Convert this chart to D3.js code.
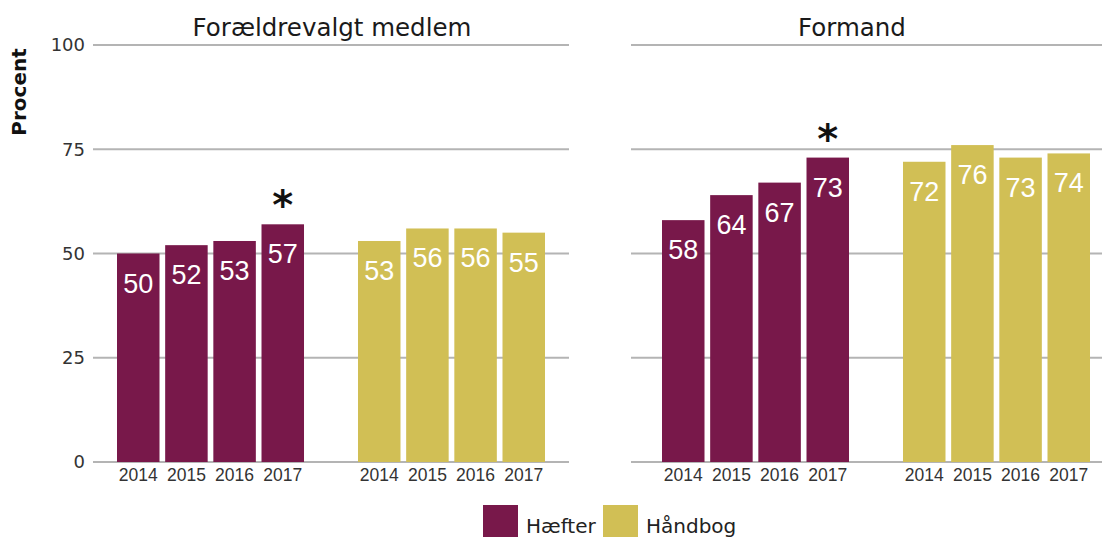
<!DOCTYPE html>
<html>
<head>
<meta charset="utf-8">
<script src="https://cdn.jsdelivr.net/npm/d3@7"></script>
<style>
  html, body { margin: 0; padding: 0; background: #fff; }
  svg { display: block; }
</style>
</head>
<body>
<svg id="chart" width="1102" height="537"></svg>
<script>
// ---- data ----
const panelTitles = ["Forældrevalgt medlem", "Formand"];
const seriesNames = ["Hæfter", "Håndbog"];
const years = ["2014", "2015", "2016", "2017"];
const haefterMedlem = [50, 52, 53, 57];
const haandbogMedlem = [53, 56, 56, 55];
const haefterFormand = [58, 64, 67, 73];
const haandbogFormand = [72, 76, 73, 74];
const starsMedlem = [[false, false, false, true], [false, false, false, false]];
const starsFormand = [[false, false, false, true], [false, false, false, false]];
const yTicks = [0, 25, 50, 75, 100];
const yLabel = "Procent";

// ---- styles / layout ----
const colors = ["#78184a", "#d1bf55"];
const panelLayout = [
  { grid: [93, 569], bars: [117, 545], titleX: 332 },
  { grid: [631, 1102], bars: [662, 1090], titleX: 852 }
];
const panelData = [
  { values: [haefterMedlem, haandbogMedlem], stars: starsMedlem },
  { values: [haefterFormand, haandbogFormand], stars: starsFormand }
];

const svg = d3.select("#chart");
const y = d3.scaleLinear().domain([0, 100]).range([462, 45]);

// y-axis label
svg.append("text")
  .attr("transform", `translate(26,92) rotate(-90)`)
  .attr("text-anchor", "middle")
  .attr("font-family", "DejaVu Sans")
  .attr("font-weight", "bold")
  .attr("font-size", 20)
  .attr("fill", "#111")
  .text(yLabel);

// y tick labels (left only)
svg.append("g").selectAll("text").data(yTicks).join("text")
  .attr("x", 85)
  .attr("y", d => y(d))
  .attr("dy", "0.36em")
  .attr("text-anchor", "end")
  .attr("font-family", "DejaVu Sans")
  .attr("font-size", 18)
  .attr("fill", "#333")
  .text(d => d);

panelTitles.forEach((title, pi) => {
  const L = panelLayout[pi];
  const P = panelData[pi];
  const g = svg.append("g");

  // gridlines
  g.append("g").selectAll("line").data(yTicks).join("line")
    .attr("x1", L.grid[0]).attr("x2", L.grid[1])
    .attr("y1", d => y(d)).attr("y2", d => y(d))
    .attr("stroke", "#b4b4b4").attr("stroke-width", 2);

  // title
  g.append("text")
    .attr("x", L.titleX).attr("y", 36)
    .attr("text-anchor", "middle")
    .attr("font-family", "DejaVu Sans")
    .attr("font-size", 24.5)
    .attr("fill", "#1a1a1a")
    .text(title);

  const xGroup = d3.scaleBand().domain(seriesNames).range(L.bars).paddingInner(0.224).paddingOuter(0);
  const xYear = d3.scaleBand().domain(years).range([0, xGroup.bandwidth()]).paddingInner(0.1176).paddingOuter(0);

  seriesNames.forEach((s, si) => {
    const recs = years.map((yr, i) => ({ yr, v: P.values[si][i], star: P.stars[si][i] }));
    const sg = g.append("g").attr("transform", `translate(${xGroup(s)},0)`);

    sg.selectAll("rect").data(recs).join("rect")
      .attr("x", d => xYear(d.yr))
      .attr("width", xYear.bandwidth())
      .attr("y", d => y(d.v))
      .attr("height", d => y(0) - y(d.v))
      .attr("fill", colors[si]);

    sg.selectAll("text.val").data(recs).join("text")
      .attr("class", "val")
      .attr("x", d => xYear(d.yr) + xYear.bandwidth() / 2)
      .attr("y", d => y(d.v) + 39)
      .attr("text-anchor", "middle")
      .attr("font-family", "Liberation Sans, Arial, sans-serif")
      .attr("font-size", 27)
      .attr("fill", "#fff")
      .text(d => d.v);

    sg.selectAll("text.yr").data(recs).join("text")
      .attr("class", "yr")
      .attr("x", d => xYear(d.yr) + xYear.bandwidth() / 2)
      .attr("y", 481)
      .attr("text-anchor", "middle")
      .attr("font-family", "Liberation Sans, Arial, sans-serif")
      .attr("font-size", 17.5)
      .attr("fill", "#333")
      .text(d => d.yr);

    sg.selectAll("text.star").data(recs.filter(d => d.star)).join("text")
      .attr("class", "star")
      .attr("x", d => xYear(d.yr) + xYear.bandwidth() / 2)
      .attr("y", d => y(d.v) - 5)
      .attr("text-anchor", "middle")
      .attr("font-family", "DejaVu Sans")
      .attr("font-weight", "bold")
      .attr("font-size", 40)
      .attr("fill", "#111")
      .text("*");
  });
});

// legend
const legend = svg.append("g");
const legendItems = [
  { name: seriesNames[0], x: 483 },
  { name: seriesNames[1], x: 603 }
];
legendItems.forEach((it, i) => {
  legend.append("rect")
    .attr("x", it.x).attr("y", 505)
    .attr("width", 35).attr("height", 35)
    .attr("fill", colors[i]);
  legend.append("text")
    .attr("x", it.x + 43).attr("y", 532.5)
    .attr("font-family", "DejaVu Sans")
    .attr("font-size", 20)
    .attr("fill", "#222")
    .text(it.name);
});
</script>
</body>
</html>
